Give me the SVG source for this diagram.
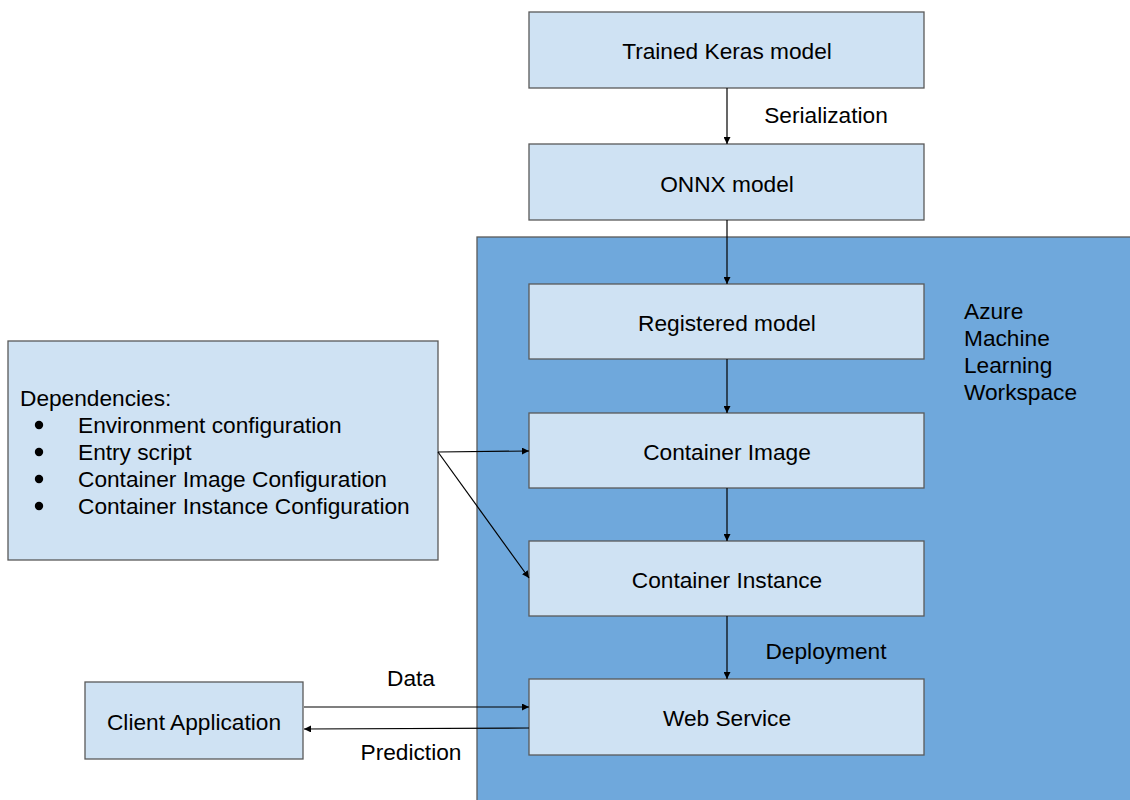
<svg xmlns="http://www.w3.org/2000/svg" width="1130" height="800" viewBox="0 0 1130 800">
<style>
.box{fill:#cfe2f3;stroke:#595959;stroke-width:1.3}
.ws{fill:#6fa8dc;stroke:#595959;stroke-width:1.3}
text{font-family:"Liberation Sans",Arial,sans-serif;font-size:22.7px;fill:#000}
.c{text-anchor:middle;dominant-baseline:central}
.ln{stroke:#000;stroke-width:1.2;fill:none;marker-end:url(#ah)}
</style>
<defs>
<marker id="ah" viewBox="0 0 10 10" refX="10" refY="5" markerWidth="7" markerHeight="7" markerUnits="userSpaceOnUse" orient="auto">
<path d="M0,0 L10,5 L0,10 z" fill="#000"/>
</marker>
</defs>
<rect width="1130" height="800" fill="#fff"/>
<g id="workspace">
<rect class="ws" x="477" y="237" width="660" height="580"/>
<text x="964" y="319">Azure</text>
<text x="964" y="346">Machine</text>
<text x="964" y="373">Learning</text>
<text x="964" y="400">Workspace</text>
</g>
<g id="keras"><rect class="box" x="529" y="12" width="395" height="76"/><text class="c" x="727" y="51">Trained Keras model</text></g>
<g id="onnx"><rect class="box" x="529" y="144" width="395" height="76"/><text class="c" x="727" y="184">ONNX model</text></g>
<g id="registered"><rect class="box" x="529" y="284" width="395" height="75"/><text class="c" x="727" y="323">Registered model</text></g>
<g id="image"><rect class="box" x="529" y="413" width="395" height="75"/><text class="c" x="727" y="452">Container Image</text></g>
<g id="instance"><rect class="box" x="529" y="541" width="395" height="75"/><text class="c" x="727" y="580">Container Instance</text></g>
<g id="webservice"><rect class="box" x="529" y="679" width="395" height="76"/><text class="c" x="727" y="718">Web Service</text></g>
<g id="dependencies">
<rect class="box" x="8" y="341" width="430" height="219"/>
<text x="20" y="406">Dependencies:</text>
<circle cx="39" cy="425" r="4.2"/><text x="78" y="433">Environment configuration</text>
<circle cx="39" cy="452" r="4.2"/><text x="78" y="460">Entry script</text>
<circle cx="39" cy="479" r="4.2"/><text x="78" y="487">Container Image Configuration</text>
<circle cx="39" cy="506" r="4.2"/><text x="78" y="514">Container Instance Configuration</text>
</g>
<g id="client"><rect class="box" x="85" y="682" width="218" height="77"/><text class="c" x="194" y="722">Client Application</text></g>
<g id="connectors">
<line class="ln" x1="727" y1="88" x2="727" y2="144"/>
<line class="ln" x1="727" y1="220" x2="727" y2="284"/>
<line class="ln" x1="727" y1="359" x2="727" y2="413"/>
<line class="ln" x1="727" y1="488" x2="727" y2="541"/>
<line class="ln" x1="727" y1="616" x2="727" y2="679"/>
<line class="ln" x1="438" y1="452" x2="529" y2="451"/>
<line class="ln" x1="438" y1="452" x2="529" y2="578"/>
<line class="ln" x1="304" y1="707" x2="529" y2="707"/>
<line class="ln" x1="529" y1="728" x2="304" y2="729"/>
<text class="c" x="826" y="115">Serialization</text>
<text class="c" x="826" y="651">Deployment</text>
<text class="c" x="411" y="678">Data</text>
<text class="c" x="411" y="752">Prediction</text>
</g>
</svg>
